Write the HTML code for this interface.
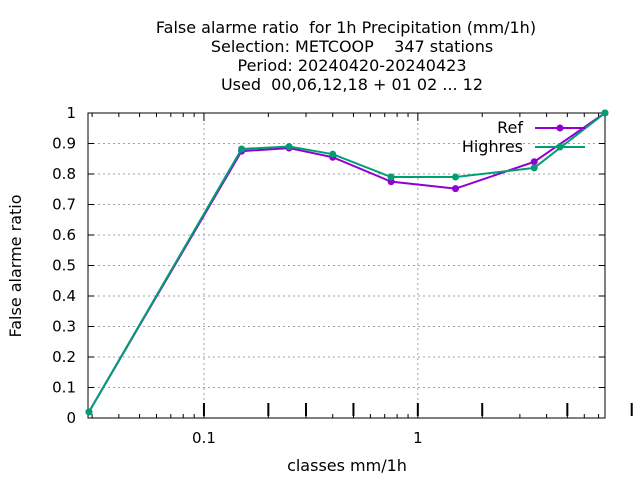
<!DOCTYPE html>
<html><head><meta charset="utf-8"><style>body{margin:0;background:#fff}svg text{font-family:"DejaVu Sans","Liberation Sans",sans-serif;font-size:15px;fill:#000;white-space:pre}svg text.big{font-size:16px}</style></head>
<body>
<svg width="640" height="480" xmlns="http://www.w3.org/2000/svg">
<g text-anchor="middle">
<text class="big" x="346" y="33" xml:space="preserve">False alarme ratio  for 1h Precipitation (mm/1h)</text>
<text class="big" x="352" y="52" xml:space="preserve">Selection: METCOOP    347 stations</text>
<text class="big" x="352" y="71">Period: 20240420-20240423</text>
<text class="big" x="352" y="90" xml:space="preserve">Used  00,06,12,18 + 01 02 ... 12</text>
</g>
<text class="big" x="347" y="471" text-anchor="middle">classes mm/1h</text>
<text class="big" transform="translate(21,266) rotate(-90)" text-anchor="middle">False alarme ratio</text>
<g id="grid"></g>
<g id="ticks"></g>
<rect x="88" y="113" width="517" height="305" fill="none" stroke="#000" stroke-width="1"/>
<g id="series"></g>
<g>
<text class="big" x="523" y="133" text-anchor="end">Ref</text>
<line x1="535" y1="128" x2="585" y2="128" stroke="#9400d3" stroke-width="2"/>
<circle cx="560" cy="128" r="3.5" fill="#9400d3"/>
<text class="big" x="523" y="152" text-anchor="end">Highres</text>
<line x1="535" y1="147" x2="585" y2="147" stroke="#009e73" stroke-width="2"/>
<circle cx="560" cy="147" r="3.5" fill="#009e73"/>
</g>
</svg>
<script>
const categories=[0.029,0.15,0.25,0.4,0.75,1.5,3.5,7.5];
const refValues=[0.02,0.875,0.885,0.855,0.775,0.752,0.84,1.0];
const highresValues=[0.02,0.882,0.89,0.865,0.79,0.79,0.82,1.0];
const yTicks=[0,0.1,0.2,0.3,0.4,0.5,0.6,0.7,0.8,0.9,1];
const yTickLabels=["0","0.1","0.2","0.3","0.4","0.5","0.6","0.7","0.8","0.9","1"];
const xTicks=[0.1,1];
const xTickLabels=["0.1","1"];
const xMarks=[0.1,0.2,0.3,0.5,1,2,5,10];
const NS="http://www.w3.org/2000/svg";
const L=88,R=605,T=113,B=418,xmin=0.0287,xmax=7.5;
function X(v){return L+(Math.log10(v)-Math.log10(xmin))/(Math.log10(xmax)-Math.log10(xmin))*(R-L);}
function Y(v){return B-v*(B-T);}
function mk(tag,attrs,parent){const e=document.createElementNS(NS,tag);for(const k in attrs)e.setAttribute(k,attrs[k]);parent.appendChild(e);return e;}
const grid=document.getElementById('grid'),ticks=document.getElementById('ticks'),series=document.getElementById('series');
yTicks.forEach((v,i)=>{
  if(v>0&&v<1){const g=mk('line',{x1:L,x2:R,y1:Y(v),y2:Y(v),stroke:'#a0a0a0','stroke-dasharray':'2,3'},grid);
  
  }
  const t=mk('line',{x1:L,x2:L+6,y1:Y(v),y2:Y(v),stroke:'#000'},ticks);
  
  
  const t2=mk('line',{x1:R-6,x2:R,y1:Y(v),y2:Y(v),stroke:'#000'},ticks);
  
  
  const lb=mk('text',{x:L-12,y:Y(v)+5,'text-anchor':'end'},ticks);lb.textContent=yTickLabels[i];
  
  
});
xTicks.forEach((v,i)=>{
  const g=mk('line',{x1:X(v),x2:X(v),y1:T,y2:B,stroke:'#a0a0a0','stroke-dasharray':'2,3'},grid);
  
  
  const lb=mk('text',{x:X(v),y:443,'text-anchor':'middle'},ticks);lb.textContent=xTickLabels[i];
  
  
});
for(let d=-2;d<=0;d++){for(let m=1;m<=9;m++){const v=m*Math.pow(10,d);if(v<xmin||v>xmax)continue;
  const h=(m===1)?8:4;
  const a=mk('line',{x1:X(v),x2:X(v),y1:B-h,y2:B,stroke:'#000'},ticks);
  
  
  const b=mk('line',{x1:X(v),x2:X(v),y1:T,y2:T+h,stroke:'#000'},ticks);
  
  }}
xMarks.forEach(v=>{
  const a=mk('line',{x1:X(v),x2:X(v),y1:403,y2:416,stroke:'#000','stroke-width':2},ticks);
  
  
});
function draw(vals,color,name){
  const pts=categories.map((c,i)=>X(c)+','+Y(vals[i])).join(' ');
  const pl=mk('polyline',{points:pts,fill:'none',stroke:color,'stroke-width':2},series);
  
  
  categories.forEach((c,i)=>{const p=mk('circle',{cx:X(c),cy:Y(vals[i]),r:3.5,fill:color},series);
  
  });
}
draw(refValues,'#9400d3','ref');
draw(highresValues,'#009e73','highres');
</script>
</body></html>
